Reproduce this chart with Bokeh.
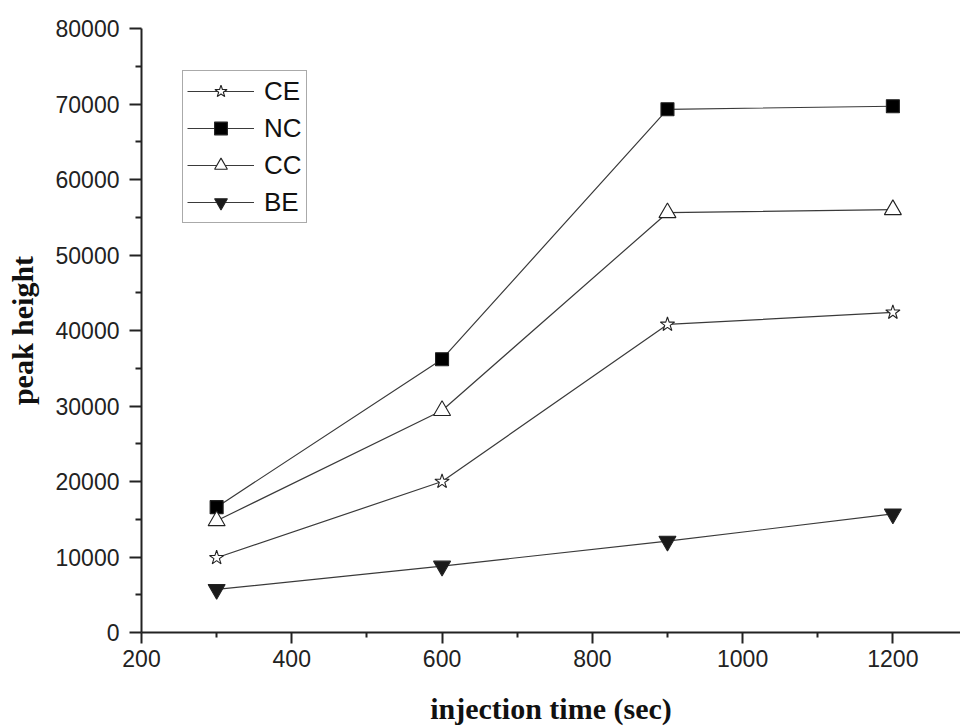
from bokeh.plotting import figure
from bokeh.models import Range1d, Legend, LegendItem, FixedTicker
from bokeh.embed import file_html
from bokeh.resources import INLINE

# ---- data ----
injection_time = [300, 600, 900, 1200]
series_names = ["CE", "NC", "CC", "BE"]
ce = [9900, 20000, 40800, 42400]
nc = [16600, 36200, 69300, 69700]
cc = [14800, 29400, 55600, 56000]
be = [5700, 8800, 12100, 15700]
x_ticks = [200, 400, 600, 800, 1000, 1200]
y_ticks = [0, 10000, 20000, 30000, 40000, 50000, 60000, 70000, 80000]

p = figure(width=960, height=727, output_backend="svg", toolbar_location=None,
           x_range=Range1d(200, 1290), y_range=Range1d(0, 80000),
           min_border_left=141, min_border_right=0, min_border_top=28, min_border_bottom=95)
p.outline_line_color = None
p.xgrid.visible = False
p.ygrid.visible = False
p.background_fill_color = "white"
p.border_fill_color = "white"

line_col = "#3a3a3a"
mk_line = "#222222"

styles = [
    (ce, "star", 15, "white"),
    (nc, "square", 13, "black"),
    (cc, "triangle", 17, "white"),
    (be, "inverted_triangle", 17, "#1a1a1a"),
]
items = []
for name, (vals, marker, size, fill) in zip(series_names, styles):
    r1 = p.line(injection_time, vals, line_color=line_col, line_width=1.2)
    r2 = p.scatter(injection_time, vals, marker=marker, size=size,
                   fill_color=fill, line_color=mk_line, line_width=1.1)
    items.append(LegendItem(label=name, renderers=[r1, r2]))

legend = Legend(items=items, location=(41, 409))
legend.label_text_font = "Liberation Sans"
legend.label_text_font_size = "26px"
legend.label_text_color = "#111111"
legend.glyph_width = 67
legend.glyph_height = 32
legend.label_height = 32
legend.spacing = 5
legend.padding = 4
legend.margin = 0
legend.label_standoff = 10
legend.border_line_color = "#555555"
legend.border_line_width = 1.5
legend.background_fill_color = "white"
legend.background_fill_alpha = 1
p.add_layout(legend, "center")

for ax in (p.xaxis[0], p.yaxis[0]):
    ax.axis_line_color = "#222222"
    ax.axis_line_width = 2
    ax.major_tick_line_color = "#222222"
    ax.minor_tick_line_color = "#222222"
    ax.major_tick_line_width = 2
    ax.minor_tick_line_width = 2
    ax.major_tick_in = 0
    ax.minor_tick_in = 0
    ax.major_label_text_font = "Liberation Sans"
    ax.major_label_text_font_size = "23px"
    ax.major_label_text_color = "#222222"
    ax.axis_label_text_font = "Liberation Serif"
    ax.axis_label_text_font_style = "bold"
    ax.axis_label_text_font_size = "30px"
    ax.axis_label_text_color = "#111111"

p.xaxis.ticker = FixedTicker(ticks=x_ticks, minor_ticks=[300, 500, 700, 900, 1100])
p.yaxis.ticker = FixedTicker(ticks=y_ticks, minor_ticks=[5000, 15000, 25000, 35000, 45000, 55000, 65000, 75000])
p.xaxis.major_tick_out = 11
p.xaxis.minor_tick_out = 5
p.yaxis.major_tick_out = 12
p.yaxis.minor_tick_out = 6
p.xaxis.major_label_standoff = 6
p.yaxis.major_label_standoff = 10
p.xaxis.axis_label = "injection time (sec)"
p.yaxis.axis_label = "peak height"
p.xaxis.axis_label_standoff = 22
p.yaxis.axis_label_standoff = 14

open("out.html", "w").write(file_html(p, INLINE))
